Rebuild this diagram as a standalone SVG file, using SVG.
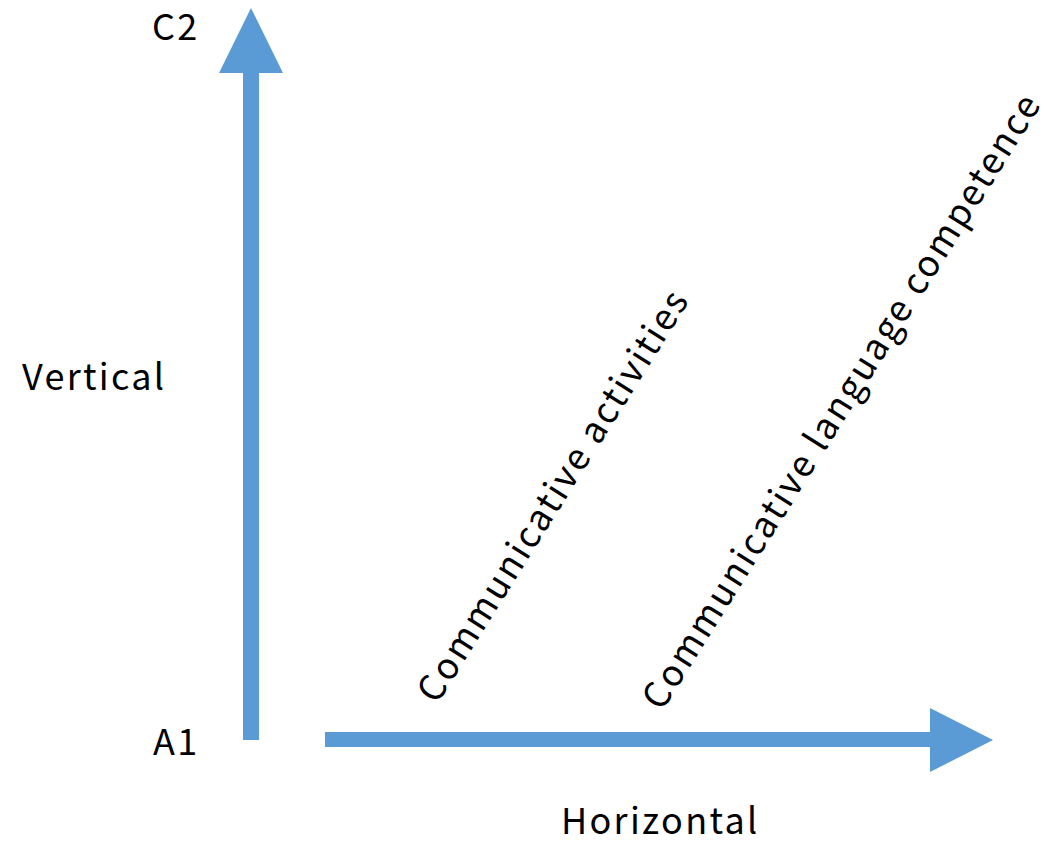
<svg xmlns="http://www.w3.org/2000/svg" width="1053" height="841" viewBox="0 0 1053 841">
<style>
.t{font-family:"Noto Sans CJK JP","Noto Sans",sans-serif;font-size:36px;fill:#000;letter-spacing:2.3px}
.a{fill:#5B9BD5}
</style>
<rect width="1053" height="841" fill="#fff"/>
<g id="connectors">
<g id="vertical-axis">
<rect class="a" x="243" y="70" width="16" height="670"/>
<polygon class="a" points="251,8 283,73 219,73"/>
</g>
<g id="horizontal-axis">
<rect class="a" x="325" y="732" width="607" height="15"/>
<polygon class="a" points="993,740 930,708 930,772"/>
</g>
</g>
<g id="label-c2"><text class="t" x="152" y="40">C2</text></g>
<g id="label-a1"><text class="t" x="153" y="755">A1</text></g>
<g id="label-vertical"><text class="t" x="22" y="390">Vertical</text></g>
<g id="label-horizontal"><text class="t" x="561" y="834">Horizontal</text></g>
<g id="label-activities"><text class="t" transform="translate(437,705) rotate(-58)">Communicative activities</text></g>
<g id="label-competence"><text class="t" transform="translate(662,712) rotate(-58)">Communicative language competence</text></g>
</svg>
